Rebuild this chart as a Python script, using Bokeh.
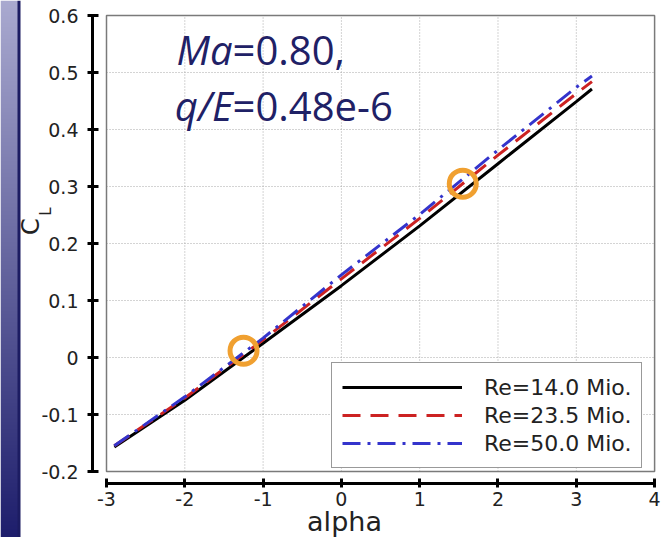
import math
import numpy as np
from bokeh.plotting import figure
from bokeh.models import Range1d, FixedTicker, Legend, LegendItem, Label
from bokeh.embed import file_html
from bokeh.resources import INLINE

# ---------------- data ----------------
alpha = [-2.9, -2.0, -1.0, 0.0, 1.0, 2.0, 3.0, 3.2]
cl_re14 = [-0.157, -0.075, 0.025, 0.126, 0.231, 0.340, 0.449, 0.471]
cl_re235 = [-0.155, -0.071, 0.031, 0.138, 0.244, 0.355, 0.463, 0.484]
cl_re50 = [-0.155, -0.069, 0.034, 0.145, 0.251, 0.364, 0.474, 0.494]

series_names = ["Re=14.0 Mio.", "Re=23.5 Mio.", "Re=50.0 Mio."]

marked_alpha = [-1.25, 1.55]
marked_cl = [0.012, 0.305]

x_ticks = [-3, -2, -1, 0, 1, 2, 3, 4]
x_tick_labels = ["-3", "-2", "-1", "0", "1", "2", "3", "4"]
y_ticks = [-0.2, -0.1, 0.0, 0.1, 0.2, 0.3, 0.4, 0.5, 0.6]
y_tick_labels = ["-0.2", "-0.1", "0", "0.1", "0.2", "0.3", "0.4", "0.5", "0.6"]

note_line1 = ("Ma", "=0.80,")
note_line2 = ("q/E", "=0.48e-6")

# ---------------- figure ----------------
FONT = "DejaVu Sans"
TXT = "#222222"
NAVY = "#1f2166"

X0, X1 = -4.35377, 4.12644
Y0, Y1 = -0.31579, 0.62632

# the frame covers the whole figure; axes are placed with fixed_location
p = figure(width=664, height=537, output_backend="svg", toolbar_location=None,
           x_range=Range1d(X0, X1), y_range=Range1d(Y0, Y1),
           min_border=0, min_border_left=0, min_border_right=0,
           min_border_top=0, min_border_bottom=0)
p.outline_line_color = None
p.grid.visible = False
p.background_fill_color = "white"
p.border_fill_color = "white"

# decorative slide strip on the left (vertical gradient with a dark edge)
H, W = 537, 20
strip = np.zeros((H, W, 4), dtype=np.uint8)
t = np.linspace(0.0, 1.0, H)[:, None]          # 0 = bottom, 1 = top
top_c = np.array([170, 170, 208])
bot_c = np.array([30, 30, 108])
col = (bot_c[None, :] * (1 - t) + top_c[None, :] * t).astype(np.uint8)
strip[:, :, :3] = col[:, None, :]
strip[:, 17:, :3] = np.array([28, 28, 98], dtype=np.uint8)
strip[:, :, 3] = 255
p.image_rgba(image=[strip.view(dtype=np.uint32).reshape((H, W))],
             x=X0, y=Y0, dw=(X1 - X0) * W / 664.0, dh=Y1 - Y0)

# dotted grid inside the box
gx = x_ticks[1:-1]
p.segment(x0=gx, x1=gx, y0=[y_ticks[0]] * len(gx), y1=[y_ticks[-1]] * len(gx),
          line_color="#a8a8a8", line_width=1, line_dash="1 2")
gy = y_ticks[1:-1]
p.segment(x0=[x_ticks[0]] * len(gy), x1=[x_ticks[-1]] * len(gy), y0=gy, y1=gy,
          line_color="#a8a8a8", line_width=1, line_dash="1 2")

# box
p.quad(left=x_ticks[0], right=x_ticks[-1], bottom=y_ticks[0], top=y_ticks[-1],
       fill_color=None, line_color="#7a7a7a", line_width=1.5)

r1 = p.line(alpha, cl_re14, line_color="black", line_width=3)
r2 = p.line(alpha, cl_re235, line_color="#cc2222", line_width=3, line_dash="18 10")
r3 = p.line(alpha, cl_re50, line_color="#3434cc", line_width=3, line_dash="18 7 3 7")

p.scatter(marked_alpha, marked_cl, marker="circle", size=27, fill_color=None,
          line_color="#f0a030", line_width=5)

# axes (offset from the box, as in the reference)
p.xaxis[0].fixed_location = -0.22105
p.yaxis[0].fixed_location = -3.1788
for ax, ticks, labels, bounds in ((p.xaxis[0], x_ticks, x_tick_labels, (x_ticks[0], x_ticks[-1])),
                                  (p.yaxis[0], y_ticks, y_tick_labels, (y_ticks[0], y_ticks[-1]))):
    ax.ticker = FixedTicker(ticks=ticks)
    ax.major_label_overrides = {t: l for t, l in zip(ticks, labels)}
    ax.bounds = bounds
    ax.axis_line_width = 3
    ax.axis_line_color = "black"
    ax.major_tick_line_width = 3
    ax.major_tick_line_color = "black"
    ax.minor_tick_line_color = None
    ax.major_label_text_font = FONT
    ax.major_label_text_font_size = "19px"
    ax.major_label_text_color = TXT

p.xaxis.major_tick_in = 5
p.xaxis.major_tick_out = 4
p.xaxis.major_label_standoff = 5
p.yaxis.major_tick_in = 6
p.yaxis.major_tick_out = 5
p.yaxis.major_label_standoff = 9

# axis titles
p.add_layout(Label(x=-3.9706, y=0.2298, text="C", angle=math.pi / 2,
                   text_align="center", text_baseline="middle",
                   text_font=FONT, text_font_size="24px", text_color=TXT))
p.add_layout(Label(x=-3.7790, y=0.2561, text="L", angle=math.pi / 2,
                   text_align="center", text_baseline="middle",
                   text_font=FONT, text_font_size="15px", text_color=TXT))
p.add_layout(Label(x=0.0396, y=-0.2877, text="alpha",
                   text_align="center", text_baseline="middle",
                   text_font=FONT, text_font_size="27px", text_color=TXT))

# annotation text
for (ital, rest), yb in ((note_line1, 0.5404), (note_line2, 0.4421)):
    p.add_layout(Label(x=-1.39, y=yb, text=ital, text_align="right",
                       text_baseline="alphabetic", text_font="Open Sans",
                       text_font_style="italic", text_font_size="40px",
                       text_color=NAVY))
    p.add_layout(Label(x=-1.39, y=yb, text=rest, text_align="left",
                       text_baseline="alphabetic", text_font="Open Sans",
                       text_font_size="40px", text_color=NAVY))

legend = Legend(items=[LegendItem(label=series_names[0], renderers=[r1]),
                       LegendItem(label=series_names[1], renderers=[r2]),
                       LegendItem(label=series_names[2], renderers=[r3])],
                location=(331, 69), glyph_width=120, glyph_height=28,
                label_height=28, label_standoff=22, padding=10, spacing=0,
                border_line_color="#333333", border_line_width=1.5,
                label_text_font=FONT, label_text_font_size="22px",
                label_text_color=TXT, background_fill_color="white",
                background_fill_alpha=1.0, margin=0)
p.add_layout(legend)

open("out.html", "w").write(file_html(p, INLINE))
